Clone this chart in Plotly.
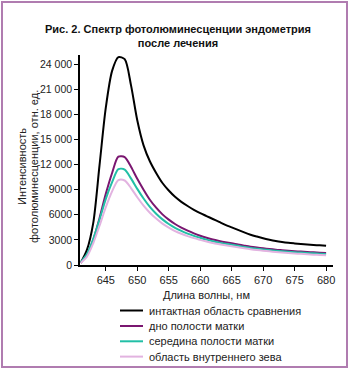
import plotly.graph_objects as go

wavelength = list(range(641, 681))

intact = [250, 1800, 5000, 11900, 18800, 23200, 24850, 24600, 21500, 17300,
          14300, 12400, 11000, 9800, 8900, 8150, 7550, 7050, 6600, 6200,
          5850, 5500, 5150, 4800, 4500, 4200, 3900, 3620, 3400, 3200,
          3030, 2880, 2760, 2660, 2580, 2510, 2450, 2400, 2350, 2300]
fundus = [300, 1200, 3000, 5600, 8500, 11000, 12950, 12900, 11750, 10300,
          9000, 7800, 6850, 6050, 5420, 4900, 4470, 4100, 3780, 3500,
          3260, 3050, 2880, 2730, 2600, 2450, 2310, 2180, 2080, 1990,
          1910, 1830, 1770, 1710, 1650, 1600, 1550, 1510, 1470, 1430]
middle = [300, 1300, 3100, 5400, 7900, 9900, 11450, 11400, 10350, 9100,
          7950, 6950, 6130, 5450, 4900, 4450, 4070, 3750, 3480, 3250,
          3030, 2830, 2680, 2540, 2420, 2290, 2160, 2040, 1950, 1860,
          1780, 1700, 1640, 1590, 1530, 1480, 1430, 1390, 1350, 1310]
os_area = [250, 1000, 2600, 4700, 6900, 8800, 10150, 10100, 9200, 8100,
           7100, 6250, 5550, 4950, 4470, 4050, 3730, 3450, 3210, 3000,
           2800, 2620, 2480, 2350, 2230, 2110, 1990, 1880, 1790, 1710,
           1630, 1560, 1500, 1440, 1380, 1330, 1280, 1240, 1200, 1160]

series_names = ["интактная область сравнения", "дно полости матки",
                "середина полости матки", "область внутреннего зева"]
series_values = [intact, fundus, middle, os_area]
series_colors = ["#000000", "#7a1670", "#22bfa6", "#e2b3e0"]

y_ticks = [0, 3000, 6000, 9000, 12000, 15000, 18000, 21000, 24000]
y_tick_labels = ["0", "3000", "6000", "9000", "12 000", "15 000", "18 000", "21 000", "24 000"]
x_ticks = [645, 650, 655, 660, 665, 670, 675, 680]

FONT = "Liberation Sans, Arial, sans-serif"

# plot area in pixels (used to place decorations in paper coordinates)
PL, PR, PT, PB = 80, 333, 55, 265
PW, PH = PR - PL, PB - PT


def px_x(px):
    return (px - PL) / PW


def px_y(py):
    return (PB - py) / PH


fig = go.Figure()
for name, vals, col in zip(series_names, series_values, series_colors):
    fig.add_trace(go.Scatter(
        x=wavelength, y=vals, mode="lines", name=name,
        line=dict(color=col, width=2, shape="spline", smoothing=0.8),
        cliponaxis=False, showlegend=False,
    ))

annotations = [
    dict(text="Интенсивность", textangle=-90, xref="paper", yref="paper",
         x=px_x(22), y=px_y(167), xanchor="center", yanchor="middle",
         showarrow=False, font=dict(size=11, color="#222222")),
    dict(text="фотолюминесценции, отн. ед.", textangle=-90, xref="paper", yref="paper",
         x=px_x(34), y=px_y(167), xanchor="center", yanchor="middle",
         showarrow=False, font=dict(size=11, color="#222222")),
]
shapes = [dict(
    type="rect", xref="paper", yref="paper",
    x0=px_x(2), x1=px_x(347), y0=px_y(367), y1=px_y(2),
    line=dict(color="#b07cb0", width=2), fillcolor="rgba(0,0,0,0)",
    layer="below",
)]

# legend drawn as key lines + labels
legend_rows = [310.5, 326, 341.3, 356.6]
for name, col, row in zip(series_names, series_colors, legend_rows):
    shapes.append(dict(type="line", xref="paper", yref="paper",
                       x0=px_x(120), x1=px_x(143), y0=px_y(row), y1=px_y(row),
                       line=dict(color=col, width=2)))
    annotations.append(dict(text=name, xref="paper", yref="paper",
                            x=px_x(147), y=px_y(row), xanchor="left", yanchor="middle",
                            showarrow=False, font=dict(size=11, color="#222222")))

fig.update_layout(
    width=350, height=379,
    margin=dict(l=PL, r=350 - PR, t=PT, b=379 - PB, autoexpand=False),
    paper_bgcolor="white", plot_bgcolor="white",
    font=dict(family=FONT, size=11, color="#222222"),
    title=dict(
        text="<b>Рис. 2. Спектр фотолюминесценции эндометрия<br>после лечения</b>",
        x=px_x(178), xref="paper", xanchor="center",
        y=0.913, yanchor="middle", yref="container",
        font=dict(size=11, color="#111111"),
    ),
    showlegend=False,
    xaxis=dict(
        range=[640.9, 681.1], tickvals=x_ticks,
        showgrid=False, zeroline=False,
        showline=True, linecolor="#000000", linewidth=1.5,
        ticks="outside", ticklen=4, tickwidth=1, tickcolor="#000000",
        tickfont=dict(size=11),
        title=dict(text="Длина волны, нм", font=dict(size=11), standoff=6),
    ),
    yaxis=dict(
        range=[0, 25100], tickvals=y_ticks, ticktext=y_tick_labels,
        showgrid=False, zeroline=False,
        showline=True, linecolor="#000000", linewidth=1.5,
        ticks="outside", ticklen=4, tickwidth=1, tickcolor="#000000",
        tickfont=dict(size=10.5),
    ),
    annotations=annotations,
    shapes=shapes,
)

fig.write_html("out.html")
